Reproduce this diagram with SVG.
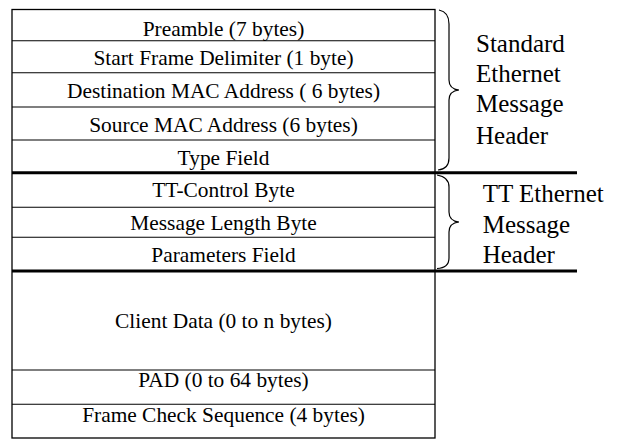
<svg xmlns="http://www.w3.org/2000/svg" width="618" height="440" viewBox="0 0 618 440">
  <style>
    .frame { fill: #fff; stroke: #000; stroke-width: 1.3; }
    .row { stroke: #000; stroke-width: 1.1; }
    .sep { stroke: #000; stroke-width: 3; }
    .brace { fill: none; stroke: #000; stroke-width: 1.2; }
    .field { font-size: 21.4px; fill: #000; text-anchor: middle; }
    .label { font-size: 25px; fill: #000; }
  </style>
  <rect width="618" height="440" fill="#fff"/>

  <!-- frame outline -->
  <rect class="frame" x="12" y="9.5" width="423" height="428.5"/>

  <!-- field boundaries -->
  <g id="connectors">
    <line class="row" x1="12" y1="40.7" x2="435" y2="40.7"/>
    <line class="row" x1="12" y1="72.7" x2="435" y2="72.7"/>
    <line class="row" x1="12" y1="107" x2="435" y2="107"/>
    <line class="row" x1="12" y1="140" x2="435" y2="140"/>
    <line class="sep" x1="12" y1="172.7" x2="577" y2="172.7"/>
    <line class="row" x1="12" y1="207.3" x2="435" y2="207.3"/>
    <line class="row" x1="12" y1="237.3" x2="435" y2="237.3"/>
    <line class="sep" x1="12" y1="271" x2="577" y2="271"/>
    <line class="row" x1="12" y1="370" x2="435" y2="370"/>
    <line class="row" x1="12" y1="404.3" x2="435" y2="404.3"/>
    <!-- braces -->
    <path class="brace" d="M439,10 Q449,12 449,24 L449,80 Q449,89 459,90 Q449,91 449,100 L449,158 Q449,169 438,170"/>
    <path class="brace" d="M437,175 Q449,177 449,187 L449,212 Q449,221 459,222 Q449,223 449,232 L449,258 Q449,268 437,268.5"/>
  </g>

  <g font-family="'Liberation Serif', Tinos, 'Times New Roman', Times, 'DejaVu Serif', serif">
    <!-- fields -->
    <g id="preamble"><text class="field" x="223.5" y="35.5">Preamble (7 bytes)</text></g>
    <g id="sfd"><text class="field" x="223.5" y="65">Start Frame Delimiter (1 byte)</text></g>
    <g id="dst-mac"><text class="field" x="223.5" y="98.3">Destination MAC Address ( 6 bytes)</text></g>
    <g id="src-mac"><text class="field" x="223.5" y="131.7">Source MAC Address (6 bytes)</text></g>
    <g id="type-field"><text class="field" x="223.5" y="165">Type Field</text></g>
    <g id="tt-control"><text class="field" x="223.5" y="196.7">TT-Control Byte</text></g>
    <g id="msg-length"><text class="field" x="223.5" y="230">Message Length Byte</text></g>
    <g id="params"><text class="field" x="223.5" y="261.7">Parameters Field</text></g>
    <g id="client-data"><text class="field" x="223.5" y="328.3">Client Data (0 to n bytes)</text></g>
    <g id="pad"><text class="field" x="223.5" y="387.3">PAD (0 to 64 bytes)</text></g>
    <g id="fcs"><text class="field" x="223.5" y="421.7">Frame Check Sequence (4 bytes)</text></g>

    <!-- header labels -->
    <g id="std-header">
      <text class="label" x="476" y="52">Standard</text>
      <text class="label" x="476" y="82">Ethernet</text>
      <text class="label" x="476" y="112">Message</text>
      <text class="label" x="476" y="144">Header</text>
    </g>
    <g id="tt-header">
      <text class="label" x="482.7" y="201.7">TT Ethernet</text>
      <text class="label" x="482.7" y="232.7">Message</text>
      <text class="label" x="482.7" y="263.3">Header</text>
    </g>
  </g>
</svg>
